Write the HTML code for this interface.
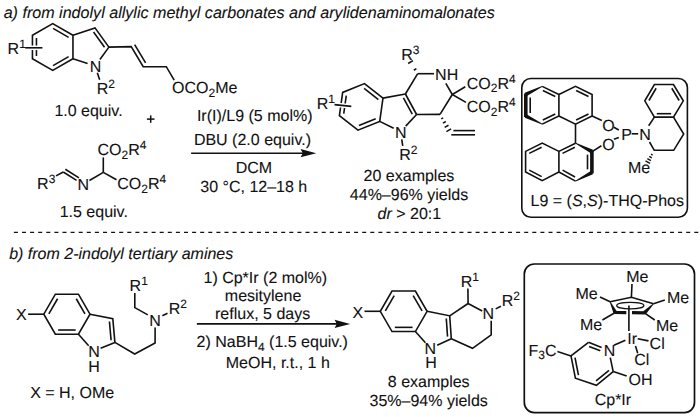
<!DOCTYPE html>
<html><head><meta charset="utf-8"><style>
html,body{margin:0;padding:0;background:#fff;}
svg{display:block;}
</style></head><body>
<svg width="700" height="417" viewBox="0 0 700 417">
<rect width="700" height="417" fill="#fff"/>
<g stroke="#111" fill="#111" font-family="'Liberation Sans', sans-serif" text-rendering="geometricPrecision">
<g fill="none">
</g>
<text stroke="#111" stroke-width="0.1" transform="translate(3.64,18.1) scale(1,1.0)" font-size="16.1"><tspan font-style="italic">a) from indolyl allylic methyl carbonates and arylidenaminomalonates</tspan></text>
<polygon points="72.96,35.3 52.7,23.6 32.44,35.3 32.44,58.7 52.7,70.4 72.96,58.7" fill="none" stroke-width="1.6" stroke-linejoin="miter"/>
<line x1="36.44" y1="38.01" x2="36.44" y2="55.99" stroke-width="1.6" stroke-linecap="butt"/>
<line x1="53.05" y1="28.42" x2="68.62" y2="37.41" stroke-width="1.6" stroke-linecap="butt"/>
<line x1="53.05" y1="65.58" x2="68.62" y2="56.59" stroke-width="1.6" stroke-linecap="butt"/>
<line x1="25.2" y1="47.8" x2="42.4" y2="47.8" stroke="#fff" stroke-width="4.5"/>
<line x1="25.2" y1="47.8" x2="42.4" y2="47.8" stroke-width="1.6" stroke-linecap="butt"/>
<text stroke="#111" stroke-width="0.1" transform="translate(7.59,53.8) scale(1,1.0)" font-size="16"><tspan>R</tspan><tspan dy="-5.9" font-size="12">1</tspan></text>
<polyline points="72.96,35.3 95,27.9 108.9,47.1" fill="none" stroke-width="1.6" stroke-linejoin="miter"/>
<line x1="93.54" y1="32.02" x2="104.53" y2="47.2" stroke-width="1.6" stroke-linecap="butt"/>
<line x1="72.96" y1="58.7" x2="87.6" y2="63.5" stroke-width="1.6" stroke-linecap="butt"/>
<line x1="108.9" y1="47.1" x2="99.9" y2="59.52" stroke-width="1.6" stroke-linecap="butt"/>
<text stroke="#111" stroke-width="0.1" transform="translate(89.74,71.6) scale(1,1.0)" font-size="16"><tspan>N</tspan></text>
<line x1="97.34" y1="72.66" x2="99.65" y2="79.83" stroke-width="1.6" stroke-linecap="butt"/>
<text stroke="#111" stroke-width="0.1" transform="translate(96.69,93.9) scale(1,1.0)" font-size="16"><tspan>R</tspan><tspan dy="-5.9" font-size="12">2</tspan></text>
<polyline points="108.9,47.1 131.2,46.6 143.2,66.7 166.3,66.7 174.2,80.2" fill="none" stroke-width="1.6" stroke-linejoin="miter"/>
<line x1="134.63" y1="44.55" x2="145.61" y2="62.93" stroke-width="1.6" stroke-linecap="butt"/>
<text stroke="#111" stroke-width="0.1" transform="translate(172.04,93.4) scale(1,1.0)" font-size="16"><tspan>OCO</tspan><tspan dy="3.4" font-size="12">2</tspan><tspan dy="-3.4">Me</tspan></text>
<text stroke="#111" stroke-width="0.1" transform="translate(54.38,116.1) scale(1,1.0)" font-size="16"><tspan>1.0 equiv.</tspan></text>
<line x1="146.9" y1="119.1" x2="154.5" y2="119.1" stroke-width="1.5" stroke-linecap="butt"/>
<line x1="150.7" y1="115.4" x2="150.7" y2="122.8" stroke-width="1.5" stroke-linecap="butt"/>
<line x1="56" y1="175.9" x2="63.3" y2="172" stroke-width="1.6" stroke-linecap="butt"/>
<line x1="63.3" y1="172" x2="76.55" y2="180.31" stroke-width="1.6" stroke-linecap="butt"/>
<line x1="65.36" y1="169.28" x2="78.95" y2="177.81" stroke-width="1.6" stroke-linecap="butt"/>
<line x1="89.46" y1="180.47" x2="103.3" y2="172.4" stroke-width="1.6" stroke-linecap="butt"/>
<line x1="103.3" y1="172.4" x2="103.3" y2="157.4" stroke-width="1.6" stroke-linecap="butt"/>
<line x1="103.3" y1="172.4" x2="116.5" y2="179.8" stroke-width="1.6" stroke-linecap="butt"/>
<text stroke="#111" stroke-width="0.1" transform="translate(77.39,189.5) scale(1,1.0)" font-size="16"><tspan>N</tspan></text>
<text stroke="#111" stroke-width="0.1" transform="translate(37.09,189.3) scale(1,1.0)" font-size="16"><tspan>R</tspan><tspan dy="-6.8" font-size="12">3</tspan></text>
<text stroke="#111" stroke-width="0.1" transform="translate(97.49,155.3) scale(1,1.0)" font-size="16"><tspan>CO</tspan><tspan dy="3.4" font-size="12">2</tspan><tspan dy="-3.4">R</tspan><tspan dy="-5.9" font-size="12">4</tspan></text>
<text stroke="#111" stroke-width="0.1" transform="translate(117.29,189.2) scale(1,1.0)" font-size="16"><tspan>CO</tspan><tspan dy="3.4" font-size="12">2</tspan><tspan dy="-3.4">R</tspan><tspan dy="-5.9" font-size="12">4</tspan></text>
<text stroke="#111" stroke-width="0.1" transform="translate(59.68,217.2) scale(1,1.0)" font-size="16"><tspan>1.5 equiv.</tspan></text>
<text stroke="#111" stroke-width="0.1" transform="translate(196.92,120.7) scale(1,1.0)" font-size="16"><tspan>Ir(I)/L9 (5 mol%)</tspan></text>
<text stroke="#111" stroke-width="0.1" transform="translate(193.89,144.6) scale(1,1.0)" font-size="16"><tspan>DBU (2.0 equiv.)</tspan></text>
<line x1="191.1" y1="153.2" x2="304.3" y2="153.2" stroke-width="1.6" stroke-linecap="butt"/>
<polygon points="316.2,153.2 300.6,149.1 302.8,153.2 300.6,157.3" fill="#111" stroke="none"/>
<text stroke="#111" stroke-width="0.1" transform="translate(235.69,172.6) scale(1,1.0)" font-size="16"><tspan>DCM</tspan></text>
<text stroke="#111" stroke-width="0.1" transform="translate(200.29,192) scale(1,1.0)" font-size="16"><tspan>30 °C, 12–18 h</tspan></text>
<polygon points="382.99,98.1 364.47,83.63 342.68,92.43 339.41,115.7 357.93,130.17 379.72,121.37" fill="none" stroke-width="1.6" stroke-linejoin="miter"/>
<line x1="364.14" y1="88.45" x2="378.39" y2="99.58" stroke-width="1.6" stroke-linecap="butt"/>
<line x1="346.27" y1="95.67" x2="343.75" y2="113.58" stroke-width="1.6" stroke-linecap="butt"/>
<line x1="358.94" y1="125.45" x2="375.71" y2="118.67" stroke-width="1.6" stroke-linecap="butt"/>
<line x1="334.5" y1="104.6" x2="351.3" y2="106.4" stroke="#fff" stroke-width="4.5"/>
<line x1="334.5" y1="104.6" x2="351.3" y2="106.4" stroke-width="1.6" stroke-linecap="butt"/>
<text stroke="#111" stroke-width="0.1" transform="translate(316.69,108.5) scale(1,1.0)" font-size="16"><tspan>R</tspan><tspan dy="-5.9" font-size="12">1</tspan></text>
<line x1="382.99" y1="98.1" x2="405.4" y2="94" stroke-width="1.6" stroke-linecap="butt"/>
<line x1="405.4" y1="94" x2="416.6" y2="114.5" stroke-width="1.6" stroke-linecap="butt"/>
<line x1="403.43" y1="97.9" x2="412.25" y2="114.05" stroke-width="1.6" stroke-linecap="butt"/>
<line x1="379.72" y1="121.37" x2="393.69" y2="128.32" stroke-width="1.6" stroke-linecap="butt"/>
<line x1="416.6" y1="114.5" x2="405.69" y2="126.15" stroke-width="1.6" stroke-linecap="butt"/>
<text stroke="#111" stroke-width="0.1" transform="translate(394.99,137.5) scale(1,1.0)" font-size="16"><tspan>N</tspan></text>
<line x1="401.72" y1="139.4" x2="402.75" y2="145.9" stroke-width="1.6" stroke-linecap="butt"/>
<text stroke="#111" stroke-width="0.1" transform="translate(399.19,159.7) scale(1,1.0)" font-size="16"><tspan>R</tspan><tspan dy="-5.9" font-size="12">2</tspan></text>
<line x1="405.4" y1="94" x2="417.7" y2="73.7" stroke-width="1.6" stroke-linecap="butt"/>
<line x1="417.7" y1="73.7" x2="434" y2="73.7" stroke-width="1.6" stroke-linecap="butt"/>
<line x1="445.8" y1="83.37" x2="452.3" y2="94.5" stroke-width="1.6" stroke-linecap="butt"/>
<line x1="452.3" y1="94.5" x2="440" y2="114.4" stroke-width="1.6" stroke-linecap="butt"/>
<line x1="440" y1="114.4" x2="416.6" y2="114.5" stroke-width="1.6" stroke-linecap="butt"/>
<line x1="452.3" y1="94.5" x2="465.3" y2="86.7" stroke-width="1.6" stroke-linecap="butt"/>
<line x1="452.3" y1="94.5" x2="466" y2="102.4" stroke-width="1.6" stroke-linecap="butt"/>
<text stroke="#111" stroke-width="0.1" transform="translate(435.09,79.7) scale(1,1.0)" font-size="16"><tspan>NH</tspan></text>
<text stroke="#111" stroke-width="0.1" transform="translate(466.79,89) scale(1,1.0)" font-size="16"><tspan>CO</tspan><tspan dy="3.4" font-size="12">2</tspan><tspan dy="-3.4">R</tspan><tspan dy="-5.9" font-size="12">4</tspan></text>
<text stroke="#111" stroke-width="0.1" transform="translate(466.79,112.1) scale(1,1.0)" font-size="16"><tspan>CO</tspan><tspan dy="3.4" font-size="12">2</tspan><tspan dy="-3.4">R</tspan><tspan dy="-5.9" font-size="12">4</tspan></text>
<line x1="413.81" y1="70.22" x2="416.36" y2="68.65" stroke-width="1.6" stroke-linecap="butt"/>
<line x1="408.15" y1="63.5" x2="412.93" y2="60.57" stroke-width="1.6" stroke-linecap="butt"/>
<text stroke="#111" stroke-width="0.1" transform="translate(401.29,60.3) scale(1,1.0)" font-size="16"><tspan>R</tspan><tspan dy="-5.9" font-size="12">3</tspan></text>
<line x1="443.14" y1="117.8" x2="441.22" y2="118.87" stroke-width="1.5" stroke-linecap="butt"/>
<line x1="445.81" y1="121.52" x2="442.95" y2="123.1" stroke-width="1.5" stroke-linecap="butt"/>
<line x1="448.48" y1="125.23" x2="444.69" y2="127.33" stroke-width="1.5" stroke-linecap="butt"/>
<line x1="451.14" y1="128.94" x2="446.42" y2="131.56" stroke-width="1.5" stroke-linecap="butt"/>
<line x1="451.3" y1="134.8" x2="475" y2="134.8" stroke-width="1.6" stroke-linecap="butt"/>
<line x1="453.4" y1="130.6" x2="475" y2="130.6" stroke-width="1.6" stroke-linecap="butt"/>
<text stroke="#111" stroke-width="0.1" transform="translate(363.6,180.7) scale(1,1.0)" font-size="16"><tspan>20 examples</tspan></text>
<text stroke="#111" stroke-width="0.1" transform="translate(349.83,199.9) scale(1,1.0)" font-size="16"><tspan>44%–96% yields</tspan></text>
<text stroke="#111" stroke-width="0.1" transform="translate(377.56,219.2) scale(1,1.0)" font-size="16"><tspan font-style="italic">dr</tspan><tspan> &gt; 20:1</tspan></text>
<rect x="521.8" y="78.5" width="165.6" height="138.7" rx="9" ry="9" fill="none" stroke-width="1.6"/>
<polyline points="542.2,86.4 558.9,94.5 558.9,116 542.2,124.1" fill="none" stroke-width="1.6" stroke-linejoin="miter"/>
<polygon points="542.02,86.04 524.72,92.7 526.48,96.3 542.38,86.76" fill="#111" stroke="none"/>
<polygon points="524.72,117.8 542.02,124.46 542.38,123.74 526.48,114.2" fill="#111" stroke="none"/>
<line x1="525.8" y1="93.5" x2="525.8" y2="117" stroke-width="3.6" stroke-linecap="butt"/>
<line x1="542.84" y1="90.49" x2="555.29" y2="96.53" stroke-width="1.6" stroke-linecap="butt"/>
<line x1="530.2" y1="97.56" x2="530.2" y2="112.94" stroke-width="1.6" stroke-linecap="butt"/>
<line x1="542.84" y1="120.01" x2="555.29" y2="113.97" stroke-width="1.6" stroke-linecap="butt"/>
<polyline points="558.9,94.5 575.5,86.4 592.1,94.5 592.1,116 575.5,124.1 558.9,116" fill="none" stroke-width="1.6" stroke-linejoin="miter"/>
<line x1="576.13" y1="90.49" x2="588.49" y2="96.52" stroke-width="1.6" stroke-linecap="butt"/>
<line x1="588.49" y1="113.98" x2="576.13" y2="120.01" stroke-width="1.6" stroke-linecap="butt"/>
<polygon points="558.9,151.4 542.2,143.1 525.6,151.4 525.6,172 542.2,180.7 558.9,172" fill="none" stroke-width="1.6" stroke-linejoin="miter"/>
<line x1="541.61" y1="147.2" x2="529.23" y2="153.38" stroke-width="1.6" stroke-linecap="butt"/>
<line x1="529.27" y1="170.09" x2="541.69" y2="176.59" stroke-width="1.6" stroke-linecap="butt"/>
<line x1="558.9" y1="151.4" x2="575.5" y2="143.2" stroke-width="1.6" stroke-linecap="butt"/>
<line x1="558.9" y1="172" x2="575.5" y2="181.1" stroke-width="1.6" stroke-linecap="butt"/>
<polygon points="575.32,143.56 591.2,153.38 593,149.82 575.68,142.84" fill="#111" stroke="none"/>
<polygon points="591.17,170.63 575.31,180.75 575.69,181.45 593.03,174.17" fill="#111" stroke="none"/>
<line x1="591.9" y1="150.6" x2="591.9" y2="173.4" stroke-width="3.6" stroke-linecap="butt"/>
<line x1="562.52" y1="153.4" x2="574.89" y2="147.29" stroke-width="1.6" stroke-linecap="butt"/>
<line x1="587.5" y1="154.66" x2="587.5" y2="169.34" stroke-width="1.6" stroke-linecap="butt"/>
<line x1="562.61" y1="170.15" x2="575.06" y2="176.98" stroke-width="1.6" stroke-linecap="butt"/>
<line x1="575.5" y1="124.1" x2="575.5" y2="143.3" stroke-width="1.6" stroke-linecap="butt"/>
<line x1="592.1" y1="116" x2="601.8" y2="120.5" stroke-width="1.6" stroke-linecap="butt"/>
<line x1="592.1" y1="151.6" x2="601.4" y2="145.8" stroke-width="1.6" stroke-linecap="butt"/>
<text stroke="#111" stroke-width="0.1" transform="translate(602.34,130.7) scale(1,1.0)" font-size="16"><tspan>O</tspan></text>
<text stroke="#111" stroke-width="0.1" transform="translate(602.34,149.7) scale(1,1.0)" font-size="16"><tspan>O</tspan></text>
<line x1="613.9" y1="127.3" x2="618.8" y2="130" stroke-width="1.6" stroke-linecap="butt"/>
<line x1="613.9" y1="139.2" x2="618.8" y2="137.5" stroke-width="1.6" stroke-linecap="butt"/>
<text stroke="#111" stroke-width="0.1" transform="translate(621.19,139.7) scale(1,1.0)" font-size="16"><tspan>P</tspan></text>
<line x1="631.7" y1="133.8" x2="638.2" y2="133.8" stroke-width="1.6" stroke-linecap="butt"/>
<text stroke="#111" stroke-width="0.1" transform="translate(639.19,139.8) scale(1,1.0)" font-size="16"><tspan>N</tspan></text>
<polygon points="654.4,84.5 673.5,84.5 683.3,100.8 673.5,117.1 654.4,117.1 644.8,100.8" fill="none" stroke-width="1.6" stroke-linejoin="miter"/>
<line x1="648.93" y1="100.49" x2="656.13" y2="88.26" stroke-width="1.6" stroke-linecap="butt"/>
<line x1="671.8" y1="88.28" x2="679.17" y2="100.53" stroke-width="1.6" stroke-linecap="butt"/>
<line x1="656.76" y1="113.7" x2="671.14" y2="113.7" stroke-width="1.6" stroke-linecap="butt"/>
<line x1="654.4" y1="117.1" x2="648.7" y2="125.7" stroke-width="1.6" stroke-linecap="butt"/>
<polyline points="673.5,117.1 683.7,134 673.7,150.3 654.3,150.3 649.5,142" fill="none" stroke-width="1.6" stroke-linejoin="miter"/>
<line x1="652.65" y1="155.1" x2="651.08" y2="154.23" stroke-width="1.4" stroke-linecap="butt"/>
<line x1="651.77" y1="157.84" x2="649.21" y2="156.41" stroke-width="1.4" stroke-linecap="butt"/>
<line x1="650.89" y1="160.57" x2="647.34" y2="158.59" stroke-width="1.4" stroke-linecap="butt"/>
<line x1="650.02" y1="163.31" x2="645.48" y2="160.77" stroke-width="1.4" stroke-linecap="butt"/>
<text stroke="#111" stroke-width="0.1" transform="translate(627.99,172.9) scale(1,1.0)" font-size="16"><tspan>Me</tspan></text>
<text stroke="#111" stroke-width="0.1" transform="translate(530.59,206.2) scale(1,1.0)" font-size="16"><tspan>L9 = (</tspan><tspan font-style="italic">S</tspan><tspan>,</tspan><tspan font-style="italic">S</tspan><tspan>)-THQ-Phos</tspan></text>
<line x1="13.9" y1="232.4" x2="699" y2="232.4" stroke-width="1.4" stroke-dasharray="4 4.1"/>
<text stroke="#111" stroke-width="0.1" transform="translate(9.17,259.2) scale(1,1.0)" font-size="16"><tspan font-style="italic">b) from 2-indolyl tertiary amines</tspan></text>
<polygon points="55.35,294.19 78.45,294.19 90,314.2 78.45,334.21 55.35,334.21 43.8,314.2" fill="none" stroke-width="1.6" stroke-linejoin="miter"/>
<line x1="48.85" y1="313.85" x2="57.57" y2="298.74" stroke-width="1.6" stroke-linecap="butt"/>
<line x1="76.23" y1="298.74" x2="84.95" y2="313.85" stroke-width="1.6" stroke-linecap="butt"/>
<line x1="58.17" y1="330.01" x2="75.63" y2="330.01" stroke-width="1.6" stroke-linecap="butt"/>
<line x1="28.1" y1="314.2" x2="43.8" y2="314.2" stroke-width="1.6" stroke-linecap="butt"/>
<text stroke="#111" stroke-width="0.1" transform="translate(15.94,320.4) scale(1,1.0)" font-size="16"><tspan>X</tspan></text>
<polyline points="90,314.2 112.8,318.7 114.9,342.4" fill="none" stroke-width="1.6" stroke-linejoin="miter"/>
<line x1="109.43" y1="321.49" x2="111.1" y2="340.25" stroke-width="1.6" stroke-linecap="butt"/>
<line x1="78.45" y1="334.21" x2="88.68" y2="345.68" stroke-width="1.6" stroke-linecap="butt"/>
<line x1="114.9" y1="342.4" x2="100.62" y2="348.3" stroke-width="1.6" stroke-linecap="butt"/>
<text stroke="#111" stroke-width="0.1" transform="translate(88.29,357.4) scale(1,1.0)" font-size="16"><tspan>N</tspan></text>
<text stroke="#111" stroke-width="0.1" transform="translate(88.29,371.6) scale(1,1.0)" font-size="16"><tspan>H</tspan></text>
<polyline points="114.9,342.4 134.7,354 155.1,343 155.1,327.4" fill="none" stroke-width="1.6" stroke-linejoin="miter"/>
<text stroke="#111" stroke-width="0.1" transform="translate(149.19,325.8) scale(1,1.0)" font-size="16"><tspan>N</tspan></text>
<polyline points="134.8,293 134.8,307.6 147.8,314.9" fill="none" stroke-width="1.6" stroke-linejoin="miter"/>
<line x1="162.4" y1="315.8" x2="167.5" y2="313.2" stroke-width="1.6" stroke-linecap="butt"/>
<text stroke="#111" stroke-width="0.1" transform="translate(129.59,291) scale(1,1.0)" font-size="16"><tspan>R</tspan><tspan dy="-5.9" font-size="12">1</tspan></text>
<text stroke="#111" stroke-width="0.1" transform="translate(168.79,313.8) scale(1,1.0)" font-size="16"><tspan>R</tspan><tspan dy="-5.9" font-size="12">2</tspan></text>
<text stroke="#111" stroke-width="0.1" transform="translate(30.14,398.3) scale(1,1.0)" font-size="16"><tspan>X = H, OMe</tspan></text>
<text stroke="#111" stroke-width="0.1" transform="translate(203.48,282.7) scale(1,1.0)" font-size="16"><tspan>1) Cp*Ir (2 mol%)</tspan></text>
<text stroke="#111" stroke-width="0.1" transform="translate(224.84,300.7) scale(1,1.0)" font-size="16"><tspan>mesitylene</tspan></text>
<text stroke="#111" stroke-width="0.1" transform="translate(215.04,318.8) scale(1,1.0)" font-size="16"><tspan>reflux, 5 days</tspan></text>
<line x1="196.9" y1="323.9" x2="338.3" y2="323.9" stroke-width="1.6" stroke-linecap="butt"/>
<polygon points="350.2,323.9 334.6,319.8 336.8,323.9 334.6,328" fill="#111" stroke="none"/>
<text stroke="#111" stroke-width="0.1" transform="translate(196.6,347.3) scale(1,1.0)" font-size="16"><tspan>2) NaBH</tspan><tspan dy="3.4" font-size="12">4</tspan><tspan dy="-3.4"> (1.5 equiv.)</tspan></text>
<text stroke="#111" stroke-width="0.1" transform="translate(225.79,367.9) scale(1,1.0)" font-size="16"><tspan>MeOH, r.t., 1 h</tspan></text>
<polygon points="392,291.04 415.4,291.04 427.1,311.3 415.4,331.56 392,331.56 380.3,311.3" fill="none" stroke-width="1.6" stroke-linejoin="miter"/>
<line x1="385.35" y1="310.95" x2="394.22" y2="295.58" stroke-width="1.6" stroke-linecap="butt"/>
<line x1="413.18" y1="295.58" x2="422.05" y2="310.95" stroke-width="1.6" stroke-linecap="butt"/>
<line x1="394.82" y1="327.36" x2="412.58" y2="327.36" stroke-width="1.6" stroke-linecap="butt"/>
<line x1="364.5" y1="311.3" x2="380.3" y2="311.3" stroke-width="1.6" stroke-linecap="butt"/>
<text stroke="#111" stroke-width="0.1" transform="translate(352.44,317.5) scale(1,1.0)" font-size="16"><tspan>X</tspan></text>
<polyline points="427.1,311.3 449.7,315.8 451.3,338.8" fill="none" stroke-width="1.6" stroke-linejoin="miter"/>
<line x1="446.28" y1="318.52" x2="447.54" y2="336.58" stroke-width="1.6" stroke-linecap="butt"/>
<line x1="415.4" y1="331.56" x2="425.44" y2="342.7" stroke-width="1.6" stroke-linecap="butt"/>
<line x1="451.3" y1="338.8" x2="437.15" y2="345.16" stroke-width="1.6" stroke-linecap="butt"/>
<text stroke="#111" stroke-width="0.1" transform="translate(424.59,353.6) scale(1,1.0)" font-size="16"><tspan>N</tspan></text>
<text stroke="#111" stroke-width="0.1" transform="translate(425.29,367.9) scale(1,1.0)" font-size="16"><tspan>H</tspan></text>
<line x1="449.7" y1="315.8" x2="468.1" y2="303.5" stroke-width="1.6" stroke-linecap="butt"/>
<line x1="468.1" y1="303.5" x2="467.9" y2="288.5" stroke-width="1.6" stroke-linecap="butt"/>
<line x1="468.1" y1="303.5" x2="482.2" y2="311" stroke-width="1.6" stroke-linecap="butt"/>
<text stroke="#111" stroke-width="0.1" transform="translate(482.49,319) scale(1,1.0)" font-size="16"><tspan>N</tspan></text>
<line x1="495.7" y1="308.9" x2="500.9" y2="306.3" stroke-width="1.6" stroke-linecap="butt"/>
<polyline points="491.2,320.8 491.2,334.8 472.5,348.3 451.3,338.8" fill="none" stroke-width="1.6" stroke-linejoin="miter"/>
<text stroke="#111" stroke-width="0.1" transform="translate(460.79,287.1) scale(1,1.0)" font-size="16"><tspan>R</tspan><tspan dy="-5.9" font-size="12">1</tspan></text>
<text stroke="#111" stroke-width="0.1" transform="translate(501.79,305.9) scale(1,1.0)" font-size="16"><tspan>R</tspan><tspan dy="-5.9" font-size="12">2</tspan></text>
<text stroke="#111" stroke-width="0.1" transform="translate(387.8,387.3) scale(1,1.0)" font-size="16"><tspan>8 examples</tspan></text>
<text stroke="#111" stroke-width="0.1" transform="translate(369.49,406.3) scale(1,1.0)" font-size="16"><tspan>35%–94% yields</tspan></text>
<rect x="524.3" y="264" width="170.2" height="148.6" rx="10" ry="10" fill="none" stroke-width="1.7"/>
<polyline points="610.1,301.8 631.4,297.3 653.5,303.8" fill="none" stroke-width="1.6" stroke-linejoin="miter"/>
<polygon points="609.74,301.97 613.5,313.37 617.1,311.63 610.46,301.63" fill="#111" stroke="none"/>
<polygon points="653.22,303.52 642.99,311.38 645.81,314.22 653.78,304.08" fill="#111" stroke="none"/>
<line x1="614.8" y1="312.5" x2="626.3" y2="312.6" stroke-width="3.2" stroke-linecap="butt"/>
<line x1="632" y1="312.7" x2="644.9" y2="312.8" stroke-width="3.2" stroke-linecap="butt"/>
<ellipse cx="630.3" cy="305.6" rx="13.6" ry="3.3" fill="none" stroke-width="1.2"/>
<line x1="628.9" y1="305.6" x2="628.9" y2="331" stroke-width="1.6" stroke-linecap="butt"/>
<line x1="631.4" y1="297.3" x2="632" y2="284" stroke-width="1.6" stroke-linecap="butt"/>
<line x1="610.1" y1="301.8" x2="600" y2="297" stroke-width="1.6" stroke-linecap="butt"/>
<line x1="653.5" y1="303.8" x2="664.8" y2="299.9" stroke-width="1.6" stroke-linecap="butt"/>
<line x1="615.3" y1="312.5" x2="602.4" y2="320" stroke-width="1.6" stroke-linecap="butt"/>
<line x1="644.4" y1="312.8" x2="654.7" y2="320" stroke-width="1.6" stroke-linecap="butt"/>
<text stroke="#111" stroke-width="0.1" transform="translate(626.29,281.9) scale(1,1.0)" font-size="16"><tspan>Me</tspan></text>
<text stroke="#111" stroke-width="0.1" transform="translate(575.39,299.2) scale(1,1.0)" font-size="16"><tspan>Me</tspan></text>
<text stroke="#111" stroke-width="0.1" transform="translate(666.89,303.1) scale(1,1.0)" font-size="16"><tspan>Me</tspan></text>
<text stroke="#111" stroke-width="0.1" transform="translate(579.99,329.7) scale(1,1.0)" font-size="16"><tspan>Me</tspan></text>
<text stroke="#111" stroke-width="0.1" transform="translate(655.89,330.6) scale(1,1.0)" font-size="16"><tspan>Me</tspan></text>
<text stroke="#111" stroke-width="0.1" transform="translate(627.32,344.1) scale(1,1.0)" font-size="16"><tspan>Ir</tspan></text>
<line x1="637.7" y1="338.8" x2="648.5" y2="340.9" stroke-width="1.6" stroke-linecap="butt"/>
<text stroke="#111" stroke-width="0.1" transform="translate(649.59,349.1) scale(1,1.0)" font-size="16"><tspan>Cl</tspan></text>
<line x1="635.5" y1="346" x2="637.7" y2="353.2" stroke-width="1.6" stroke-linecap="butt"/>
<text stroke="#111" stroke-width="0.1" transform="translate(634.29,365.2) scale(1,1.0)" font-size="16"><tspan>Cl</tspan></text>
<text stroke="#111" stroke-width="0.1" transform="translate(603.79,355.5) scale(1,1.0)" font-size="16"><tspan>N</tspan></text>
<line x1="613.9" y1="345.3" x2="625.4" y2="340.2" stroke-width="1.6" stroke-linecap="butt"/>
<line x1="588.5" y1="342.3" x2="601.62" y2="347.43" stroke-width="1.6" stroke-linecap="butt"/>
<line x1="589.05" y1="346.38" x2="600.31" y2="350.78" stroke-width="1.6" stroke-linecap="butt"/>
<line x1="610.26" y1="357.64" x2="613.2" y2="371.6" stroke-width="1.6" stroke-linecap="butt"/>
<polyline points="613.2,371.6 596.4,385.3 575.4,378.2 571,355.9 588.5,342.3" fill="none" stroke-width="1.6" stroke-linejoin="miter"/>
<line x1="609" y1="370.38" x2="596.05" y2="380.94" stroke-width="1.6" stroke-linecap="butt"/>
<line x1="578.45" y1="375.07" x2="575.01" y2="357.63" stroke-width="1.6" stroke-linecap="butt"/>
<line x1="571" y1="355.9" x2="557.4" y2="351.6" stroke-width="1.6" stroke-linecap="butt"/>
<text stroke="#111" stroke-width="0.1" transform="translate(528.49,355.5) scale(1,1.0)" font-size="16"><tspan>F</tspan><tspan dy="3.4" font-size="12">3</tspan><tspan dy="-3.4">C</tspan></text>
<line x1="613.2" y1="371.6" x2="626.7" y2="375.9" stroke-width="1.6" stroke-linecap="butt"/>
<text stroke="#111" stroke-width="0.1" transform="translate(628.54,384.8) scale(1,1.0)" font-size="16"><tspan>OH</tspan></text>
<text stroke="#111" stroke-width="0.1" transform="translate(594.69,404.9) scale(1,1.0)" font-size="16"><tspan>Cp*Ir</tspan></text>
</g>
</svg>
</body></html>
